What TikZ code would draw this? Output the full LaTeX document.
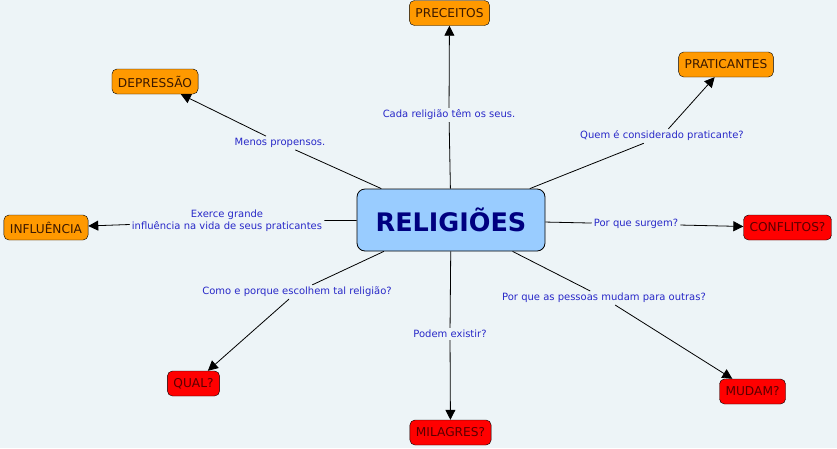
\documentclass[tikz,border=0pt]{standalone}
\usepackage{fontspec}
\setmainfont{DejaVu Sans}
\usetikzlibrary{arrows.meta}

\definecolor{bgcol}{RGB}{237,244,247}
\definecolor{mainfill}{RGB}{153,204,255}
\definecolor{maintext}{RGB}{0,0,128}
\definecolor{orangefill}{RGB}{255,153,0}
\definecolor{redfill}{RGB}{255,0,0}
\definecolor{linkblue}{RGB}{40,40,200}

\begin{document}
\begin{tikzpicture}[x=1pt, y=-1pt,
    mainnode/.style={draw=black, fill=mainfill, rounded corners=8pt, thick, text=maintext, font=\fontsize{25.5}{30}\selectfont\bfseries, minimum width=188pt, minimum height=62pt},
    orangenode/.style={draw=black, fill=orangefill, rounded corners=5pt, text={rgb,255:red,60;green,25;blue,0}, font=\fontsize{12.2}{14}\selectfont, minimum height=25pt, inner xsep=6pt},
    rednode/.style={orangenode, fill=redfill, text={rgb,255:red,90;green,0;blue,0}},
    linknode/.style={text=linkblue, font=\fontsize{10}{12}\selectfont, align=center, inner sep=2pt},
    link/.style={draw=black, line width=0.8pt},
    arrowlink/.style={link, -{Triangle[length=10pt,width=10pt]}},
  ]
  \fill[bgcol] (0,0) rectangle (837,448);
  \useasboundingbox (0,0) rectangle (837,448);

  \node[mainnode]   (rel)         at (451,220)   {RELIGIÕES};
  \node[orangenode] (preceitos)   at (449.5,13)  {PRECEITOS};
  \node[orangenode] (depressao)   at (155,81.5)  {DEPRESSÃO};
  \node[orangenode] (praticantes) at (726,64.5)  {PRATICANTES};
  \node[orangenode] (influencia)  at (46,227.5)  {INFLUÊNCIA};
  \node[rednode]    (conflitos)   at (787.5,227.5) {CONFLITOS?};
  \node[rednode]    (qual)        at (193.5,383.5) {QUAL?};
  \node[rednode]    (milagres)    at (450.5,432.5) {MILAGRES?};
  \node[rednode]    (mudam)       at (752.5,391.5) {MUDAM?};

  \node[linknode] (linkpreceitos)   at (449,115) {Cada religião têm os seus.};
  \node[linknode] (linkdepressao)   at (280,143) {Menos propensos.};
  \node[linknode] (linkpraticantes) at (662,136) {Quem é considerado praticante?};
  \node[linknode] (linkinfluencia)  at (227,221) {Exerce grande\\influência na vida de seus praticantes};
  \node[linknode] (linkconflitos)   at (636,224) {Por que surgem?};
  \node[linknode] (linkqual)        at (297,292) {Como e porque escolhem tal religião?};
  \node[linknode] (linkmilagres)    at (450,334) {Podem existir?};
  \node[linknode] (linkmudam)       at (604,298) {Por que as pessoas mudam para outras?};

  \draw[link] (rel) -- (linkpreceitos);
  \draw[arrowlink] (linkpreceitos) -- (preceitos);
  \draw[link] (rel) -- (linkdepressao);
  \draw[arrowlink] (linkdepressao) -- (depressao);
  \draw[link] (rel) -- (linkpraticantes);
  \draw[arrowlink] (linkpraticantes) -- (praticantes);
  \draw[link] (rel) -- (linkinfluencia);
  \draw[arrowlink] (linkinfluencia) -- (influencia);
  \draw[link] (rel) -- (linkconflitos);
  \draw[arrowlink] (linkconflitos) -- (conflitos);
  \draw[link] (rel) -- (linkqual);
  \draw[arrowlink] (linkqual) -- (qual);
  \draw[link] (rel) -- (linkmilagres);
  \draw[arrowlink] (linkmilagres) -- (milagres);
  \draw[link] (rel) -- (linkmudam);
  \draw[arrowlink] (linkmudam) -- (mudam);
\end{tikzpicture}
\end{document}
